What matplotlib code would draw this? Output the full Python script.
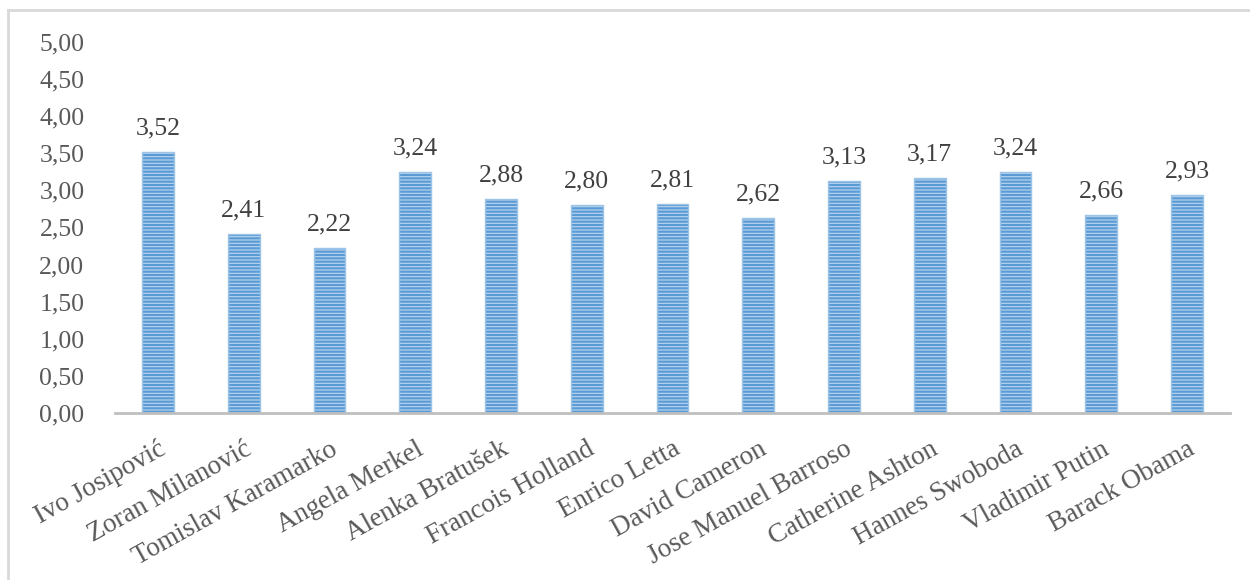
import matplotlib.pyplot as plt
from matplotlib.lines import Line2D

names = ["Ivo Josipović", "Zoran Milanović", "Tomislav Karamarko", "Angela Merkel",
         "Alenka Bratušek", "Francois Holland", "Enrico Letta", "David Cameron",
         "Jose Manuel Barroso", "Catherine Ashton", "Hannes Swoboda", "Vladimir Putin",
         "Barack Obama"]
scores = [3.52, 2.41, 2.22, 3.24, 2.88, 2.80, 2.81, 2.62, 3.13, 3.17, 3.24, 2.66, 2.93]
yticks = [0, 0.5, 1, 1.5, 2, 2.5, 3, 3.5, 4, 4.5, 5]

plt.rcParams['font.family'] = ['Liberation Serif', 'DejaVu Serif']
plt.rcParams['hatch.linewidth'] = 1.6

fig = plt.figure(figsize=(12.5, 5.8), dpi=100)
ax = fig.add_axes([0.092, 0.288, 0.892, 0.64])

x = range(len(names))
bars = ax.bar(x, scores, width=0.37, color='#bcd6ef', edgecolor='#5b9bd5',
              hatch='-----', linewidth=0)
ax.bar(x, scores, width=0.37, fill=False, edgecolor='#9dc3e6', linewidth=1)

for i, v in enumerate(scores):
    ax.text(i, v + 0.17, f"{v:.2f}".replace('.', ','), ha='center', va='bottom',
            fontsize=18.5, color='#404040')

ax.set_xlim(-0.5, len(names) - 0.5)
ax.set_ylim(0, 5)
ax.set_yticks(yticks)
ax.set_yticklabels([f"{t:.2f}".replace('.', ',') for t in yticks], fontsize=18.5, color='#595959')
ax.set_xticks(list(x))
ax.set_xticklabels(names, rotation=29, ha='right', rotation_mode='anchor',
                   fontsize=19.5, color='#595959')
ax.tick_params(axis='both', length=0)
ax.tick_params(axis='y', pad=22)
ax.tick_params(axis='x', pad=17)

for s in ['top', 'right', 'left']:
    ax.spines[s].set_visible(False)
ax.spines['bottom'].set_color('#bfbfbf')
ax.spines['bottom'].set_linewidth(2)

# outer chart frame (top and left edges visible)
fig.add_artist(Line2D([8 / 1250, 1], [1 - 10 / 580, 1 - 10 / 580], color='#d9d9d9', lw=2))
fig.add_artist(Line2D([8 / 1250, 8 / 1250], [0, 1 - 10 / 580], color='#d9d9d9', lw=2))

fig.savefig('out.png', dpi=100)
